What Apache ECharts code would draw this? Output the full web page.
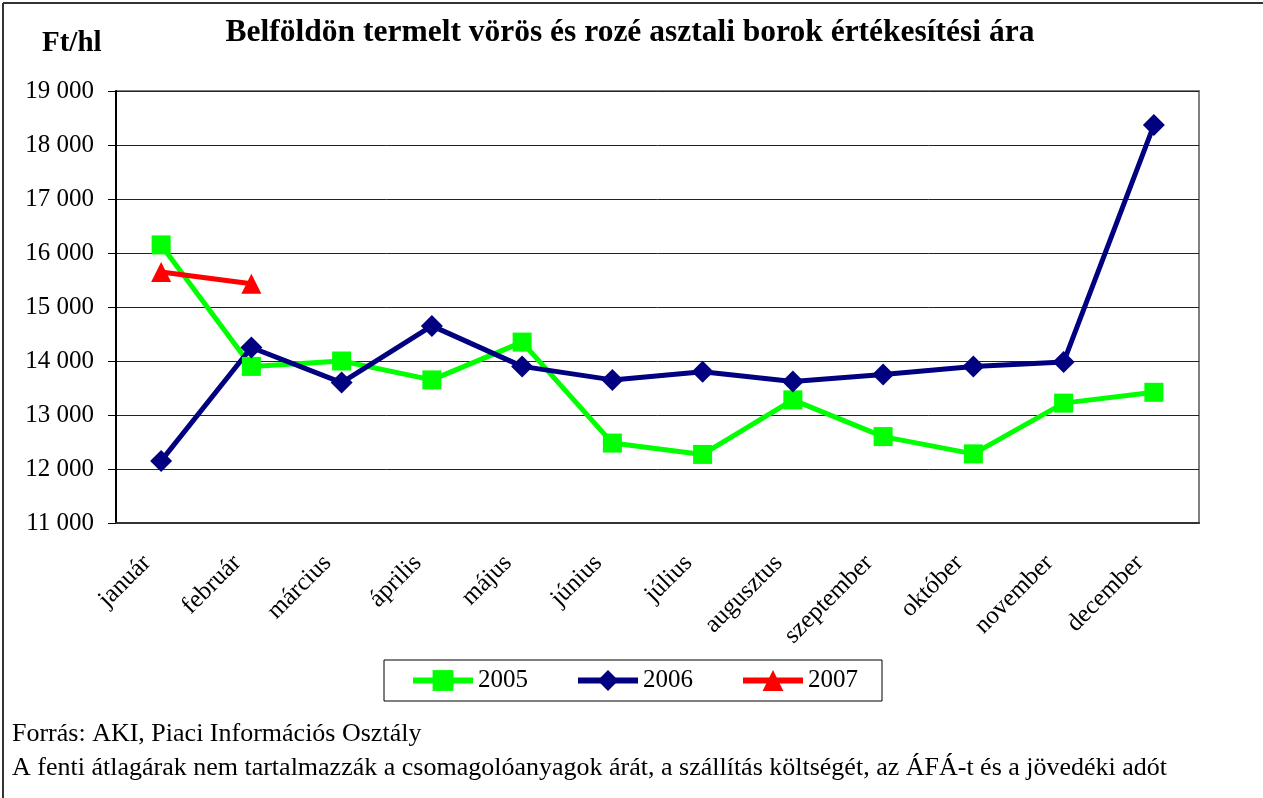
<!DOCTYPE html>
<html>
<head>
<meta charset="utf-8">
<script src="https://cdn.jsdelivr.net/npm/echarts@6/dist/echarts.min.js"></script>
<style>
  html, body { margin: 0; padding: 0; background: #fff; }
  #chart { width: 1263px; height: 798px; }
</style>
</head>
<body>
<div id="chart"></div>
<script>
// hónapok
const months = ['január', 'február', 'március', 'április', 'május', 'június',
  'július', 'augusztus', 'szeptember', 'október', 'november', 'december'];

// Ft/hl értékek
const y2005 = [16150, 13900, 14000, 13650, 14350, 12480, 12270, 13280, 12600, 12280, 13220, 13420];
const y2006 = [12150, 14250, 13600, 14650, 13900, 13650, 13800, 13620, 13750, 13900, 13980, 18370];
const y2007 = [15650, 15430];

const yTicks = { min: 11000, max: 19000, step: 1000 };

const serif = '"Liberation Serif", "Times New Roman", serif';

const chart = echarts.init(document.getElementById('chart'));

const fmt = v => {
  const s = String(v);
  return s.slice(0, s.length - 3) + ' ' + s.slice(-3);
};

const option = {
  animation: false,
  backgroundColor: '#fff',
  textStyle: { fontFamily: serif, color: '#000' },
  title: {
    text: 'Belföldön termelt vörös és rozé asztali borok értékesítési ára',
    left: 625,
    textAlign: 'center',
    top: 12,
    textStyle: { fontFamily: serif, fontSize: 31.5, fontWeight: 'bold', color: '#000' }
  },
  grid: {
    left: 116,
    top: 91,
    right: 64,
    bottom: 275,
    show: true,
    borderColor: '#808080',
    borderWidth: 2,
    backgroundColor: '#fff'
  },
  legend: {
    left: 384,
    top: 660,
    padding: [8, 24, 8, 26],
    itemWidth: 60,
    itemHeight: 26,
    itemGap: 47,
    borderColor: '#000',
    borderWidth: 1,
    lineStyle: { width: 6 },
    textStyle: { fontFamily: serif, fontSize: 25, color: '#000' },
    data: ['2005', '2006', '2007']
  },
  xAxis: {
    type: 'category',
    data: months,
    boundaryGap: true,
    axisLine: { lineStyle: { color: '#333', width: 2 } },
    axisTick: { length: 8, lineStyle: { color: '#000' } },
    axisLabel: {
      rotate: 45,
      margin: 22,
      padding: [0, 20, 0, 0],
      fontFamily: serif,
      fontSize: 25,
      color: '#000',
      interval: 0
    }
  },
  yAxis: {
    type: 'value',
    min: yTicks.min,
    max: yTicks.max,
    interval: yTicks.step,
    axisLine: { show: true, lineStyle: { color: '#000', width: 2 } },
    axisTick: { show: true, length: 8, lineStyle: { color: '#000' } },
    axisLabel: {
      margin: 22,
      fontFamily: serif,
      fontSize: 25,
      color: '#000',
      formatter: fmt
    },
    splitLine: { lineStyle: { color: '#222', width: 1 } }
  },
  series: [
    {
      name: '2005',
      type: 'line',
      data: y2005,
      symbol: 'rect',
      symbolSize: 19,
      itemStyle: { color: '#00ff00' },
      lineStyle: { color: '#00ff00', width: 5 }
    },
    {
      name: '2006',
      type: 'line',
      data: y2006,
      symbol: 'diamond',
      symbolSize: 22,
      itemStyle: { color: '#000080' },
      lineStyle: { color: '#000080', width: 5 }
    },
    {
      name: '2007',
      type: 'line',
      data: y2007,
      symbol: 'triangle',
      symbolSize: 20,
      itemStyle: { color: '#ff0000' },
      lineStyle: { color: '#ff0000', width: 5 }
    }
  ],
  graphic: [
    { type: 'line', shape: { x1: 3, y1: 3, x2: 1263, y2: 3 }, style: { stroke: '#333', lineWidth: 2 } },
    { type: 'line', shape: { x1: 3, y1: 3, x2: 3, y2: 798 }, style: { stroke: '#333', lineWidth: 2 } },
    {
      type: 'text', left: 42, top: 29,
      style: { text: 'Ft/hl', font: 'bold 29px ' + serif, fill: '#000' }
    },
    {
      type: 'text', left: 12, top: 721,
      style: { text: 'Forrás: AKI, Piaci Információs Osztály', font: '26px ' + serif, fill: '#000' }
    },
    {
      type: 'text', left: 12, top: 755,
      style: { text: 'A fenti átlagárak nem tartalmazzák a csomagolóanyagok árát, a szállítás költségét, az ÁFÁ-t és a jövedéki adót', font: '26px ' + serif, fill: '#000' }
    }
  ]
};

chart.setOption(option);
</script>
</body>
</html>
